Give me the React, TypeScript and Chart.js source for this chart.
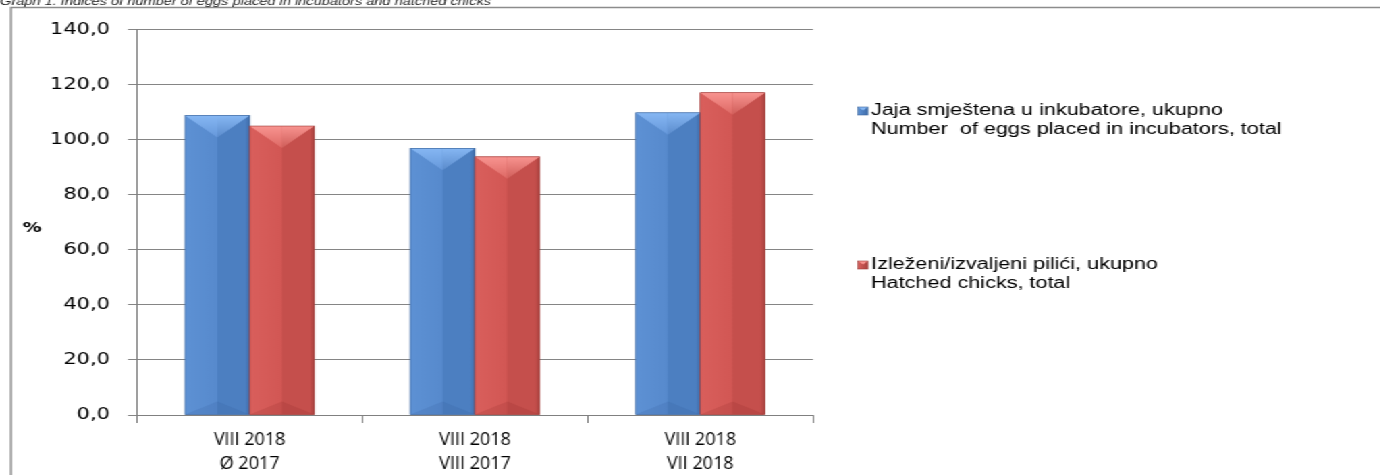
import React, { useEffect, useRef } from "react";
import { Chart, registerables } from "chart.js";

Chart.register(...registerables);

// ---------- data ----------
const categories: string[][] = [
  ["VIII 2018", "Ø 2017"],
  ["VIII 2018", "VIII 2017"],
  ["VIII 2018", "VII 2018"],
];
const eggsPlaced: number[] = [108.8, 96.9, 109.8];
const hatchedChicks: number[] = [105.0, 93.8, 117.1];
const seriesLabels: string[][] = [
  ["Jaja smještena u inkubatore, ukupno", "Number  of eggs placed in incubators, total"],
  ["Izleženi/izvaljeni pilići, ukupno", "Hatched chicks, total"],
];
const yMin = 0;
const yMax = 140;
const yStep = 20;
const yAxisTitle = "%";
const chartTitle = "Graph 1. Indices of number of eggs placed in incubators and hatched chicks";

// ---------- layout (screen px) ----------
const S = 1.35; // horizontal stretch of the original picture
const W = 1380;
const H = 475;
const W0 = W / S;
const sx = (x: number) => x / S;

type Pal = { l: string; m1: string; m2: string; r: string; edge: string; t1: string; t2: string; t3: string; bot: string };
const palettes: Pal[] = [
  { l: "#5d91d4", m1: "#578acd", m2: "#4c7fc1", r: "#3f6ca9", edge: "#3d679e", t1: "#86b7f3", t2: "#6597da", t3: "#5a8bcc", bot: "rgba(40,80,140,0.14)" },
  { l: "#d95f5c", m1: "#d25754", m2: "#c54f4c", r: "#a8413e", edge: "#9e3b38", t1: "#f89490", t2: "#dd6864", t3: "#cf5d59", bot: "rgba(120,30,30,0.14)" },
];

function drawBevelBar(ctx: CanvasRenderingContext2D, L: number, R: number, T: number, B: number, p: Pal) {
  const w = R - L;
  const cx = (L + R) / 2;
  const g = ctx.createLinearGradient(L, 0, R, 0);
  g.addColorStop(0, p.l);
  g.addColorStop(0.49, p.m1);
  g.addColorStop(0.5, p.m2);
  g.addColorStop(0.93, p.m2);
  g.addColorStop(1, p.r);
  ctx.fillStyle = g;
  ctx.fillRect(L, T, w, B - T);
  // bottom bevel
  const d2 = w * 0.2 * S;
  ctx.fillStyle = p.bot;
  ctx.beginPath();
  ctx.moveTo(L, B);
  ctx.lineTo(cx, B - d2);
  ctx.lineTo(R, B);
  ctx.closePath();
  ctx.fill();
  // top bevel
  const d = Math.min(w * 0.34 * S, B - T);
  const tg = ctx.createLinearGradient(0, T, 0, T + d);
  tg.addColorStop(0, p.t1);
  tg.addColorStop(1, p.t2);
  ctx.fillStyle = tg;
  ctx.beginPath();
  ctx.moveTo(L, T);
  ctx.lineTo(cx, T);
  ctx.lineTo(cx, T + d);
  ctx.closePath();
  ctx.fill();
  const tg2 = ctx.createLinearGradient(0, T, 0, T + d);
  tg2.addColorStop(0, p.t1);
  tg2.addColorStop(1, p.t3);
  ctx.fillStyle = tg2;
  ctx.beginPath();
  ctx.moveTo(cx, T);
  ctx.lineTo(R, T);
  ctx.lineTo(cx, T + d);
  ctx.closePath();
  ctx.fill();
  // outline
  ctx.strokeStyle = p.edge;
  ctx.lineWidth = 0.6;
  ctx.strokeRect(L, T, w, B - T);
}

const bevelPlugin = {
  id: "bevelBars",
  afterDatasetsDraw(chart: any) {
    const ctx: CanvasRenderingContext2D = chart.ctx;
    ctx.save();
    chart.data.datasets.forEach((_ds: any, i: number) => {
      const meta = chart.getDatasetMeta(i);
      meta.data.forEach((bar: any) => {
        const { x, y, width, base } = bar.getProps(["x", "y", "width", "base"], true);
        drawBevelBar(ctx, x - width / 2, x + width / 2, y, base, palettes[i]);
      });
    });
    ctx.restore();
  },
};

const decorPlugin = {
  id: "decor",
  beforeDraw(chart: any) {
    const ctx: CanvasRenderingContext2D = chart.ctx;
    ctx.save();
    ctx.fillStyle = "#ffffff";
    ctx.fillRect(0, 0, chart.width, chart.height);
    // outer frame
    ctx.strokeStyle = "#8c8c8c";
    ctx.lineWidth = 1.5;
    ctx.strokeRect(sx(11), 7.5, W0 + 20, H + 20);
    // title (cut off at top)
    ctx.fillStyle = "#222222";
    ctx.font = "italic 10.8px 'Liberation Sans', Arial, sans-serif";
    ctx.textBaseline = "alphabetic";
    ctx.textAlign = "left";
    ctx.fillText(chartTitle, 0, 5);
    ctx.restore();
  },
  afterDraw(chart: any) {
    const ctx: CanvasRenderingContext2D = chart.ctx;
    ctx.save();
    // y axis title
    ctx.fillStyle = "#000";
    ctx.font = "bold 14px 'DejaVu Sans', sans-serif";
    ctx.textAlign = "center";
    ctx.textBaseline = "middle";
    ctx.fillText(yAxisTitle, sx(32), 228);
    // category labels (drawn at the x scale's positions, un-stretched)
    const xs = chart.scales.x;
    ctx.font = "18px 'Open Sans', 'Liberation Sans', sans-serif";
    ctx.fillStyle = "#000";
    categories.forEach((lines, i) => {
      const px = xs.getPixelForValue(i);
      lines.forEach((t, j) => {
        ctx.save();
        ctx.translate(px, 440 + j * 24);
        ctx.scale(1 / S, 1);
        ctx.textAlign = "center";
        ctx.textBaseline = "middle";
        ctx.fillText(t, 0, 0);
        ctx.restore();
      });
    });
    // legend
    const items = [
      { y: 111, p: palettes[0] },
      { y: 265, p: palettes[1] },
    ];
    ctx.font = "16px 'Liberation Sans', Arial, sans-serif";
    ctx.textAlign = "left";
    items.forEach((it, i) => {
      const L = sx(858);
      const R = sx(868);
      const T = it.y - 4;
      const B = it.y + 4;
      const g = ctx.createLinearGradient(L, 0, R, 0);
      g.addColorStop(0, it.p.l);
      g.addColorStop(1, it.p.r);
      ctx.fillStyle = g;
      ctx.fillRect(L, T, R - L, B - T);
      ctx.fillStyle = it.p.t1;
      ctx.beginPath();
      ctx.moveTo(L, T);
      ctx.lineTo(R, T);
      ctx.lineTo((L + R) / 2, T + 3.5);
      ctx.closePath();
      ctx.fill();
      ctx.strokeStyle = it.p.edge;
      ctx.lineWidth = 0.6;
      ctx.strokeRect(L, T, R - L, B - T);
      ctx.fillStyle = "#000";
      ctx.fillText(seriesLabels[i][0], sx(871), it.y);
      ctx.fillText(seriesLabels[i][1], sx(871), it.y + 18.5);
    });
    ctx.restore();
  },
};

export default function App() {
  const ref = useRef<HTMLCanvasElement | null>(null);
  useEffect(() => {
    if (!ref.current) return;
    const chart = new Chart(ref.current, {
      type: "bar",
      data: {
        labels: categories,
        datasets: [
          { label: seriesLabels[0].join(" "), data: eggsPlaced, backgroundColor: "#4f81bd" },
          { label: seriesLabels[1].join(" "), data: hatchedChicks, backgroundColor: "#c0504d" },
        ],
      },
      options: {
        animation: false,
        responsive: true,
        maintainAspectRatio: false,
        devicePixelRatio: 1,
        layout: { padding: { top: 29.7, right: W0 - sx(813), left: 0, bottom: 0 } },
        datasets: { bar: { categoryPercentage: 0.574, barPercentage: 1.0 } },
        plugins: { legend: { display: false }, tooltip: { enabled: false }, title: { display: false } },
        scales: {
          x: {
            afterFit: (s: any) => { s.height = H - 415; },
            grid: { drawOnChartArea: false, drawTicks: true, tickLength: 8, color: "#808080", offset: true },
            border: { color: "#808080", width: 1 },
            ticks: { display: false, autoSkip: false, maxRotation: 0 },
          },
          y: {
            min: yMin,
            max: yMax,
            afterFit: (s: any) => { s.width = sx(137); },
            grid: { color: "#858585", lineWidth: 1, drawTicks: true, tickLength: sx(9) },
            border: { color: "#808080", width: 1 },
            ticks: {
              stepSize: yStep,
              color: "#000",
              font: { family: "'DejaVu Sans', Verdana, sans-serif", size: 15.5 },
              padding: sx(18),
              callback: (v: any) => Number(v).toFixed(1).replace(".", ","),
            },
          },
        },
      },
      plugins: [decorPlugin, bevelPlugin],
    });
    return () => chart.destroy();
  }, []);
  return (
    <div
      style={{
        position: "fixed",
        left: 0,
        top: 0,
        width: W0,
        height: H,
        transform: `scaleX(${S})`,
        transformOrigin: "0 0",
        background: "#fff",
      }}
    >
      <canvas ref={ref} />
    </div>
  );
}
